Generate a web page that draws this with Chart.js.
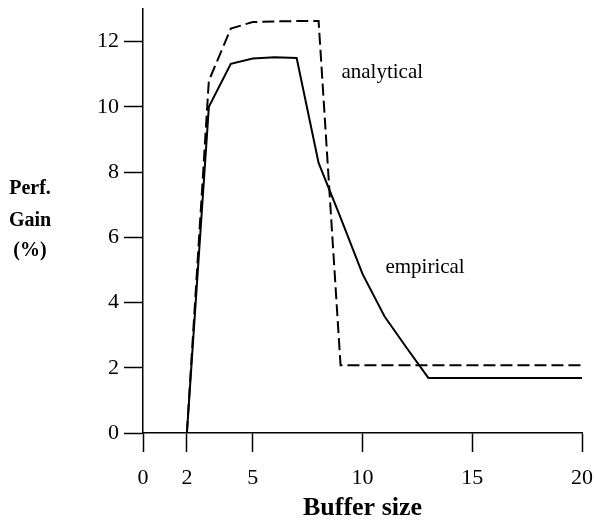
<!DOCTYPE html>
<html>
<head>
<meta charset="utf-8">
<script src="https://cdn.jsdelivr.net/npm/chart.js@4.4.0/dist/chart.umd.min.js"></script>
<style>
  body { margin: 0; background: #fff; }
  canvas { display: block; }
</style>
</head>
<body>
<canvas id="gainChart" width="594" height="524"></canvas>
<script>
// buffer sizes and measured gains (%)
var bufferSizes = [2, 3, 4, 5, 6, 7, 8, 9, 10, 11, 12, 13, 14, 15, 16, 17, 18, 19, 20];
var analytical = [0, 10.8, 12.4, 12.6, 12.62, 12.63, 12.63, 2.08, 2.08, 2.08, 2.08, 2.08, 2.08, 2.08, 2.08, 2.08, 2.08, 2.08, 2.08];
var empirical = [0, 10.0, 11.32, 11.48, 11.52, 11.5, 8.28, 6.6, 4.88, 3.58, 2.62, 1.69, 1.69, 1.69, 1.69, 1.69, 1.69, 1.69, 1.69];
var xTickValues = [0, 2, 5, 10, 15, 20];
var yTickValues = [0, 2, 4, 6, 8, 10, 12];

var serif = "'Liberation Serif', 'Times New Roman', serif";

function toPoints(ys) {
    return bufferSizes.map(function (x, i) { return { x: x, y: ys[i] }; });
}

// series names and the y axis title drawn as text on the canvas
var annotations = {
    id: 'annotations',
    afterDraw: function (chart) {
        var c = chart.ctx;
        var xs = chart.scales.x, ys = chart.scales.y;
        c.save();
        c.fillStyle = '#000';
        c.textAlign = 'center';
        c.textBaseline = 'middle';
        c.font = '21px ' + serif;
        c.fillText('analytical', xs.getPixelForValue(10.9), ys.getPixelForValue(11.05));
        c.fillText('empirical', xs.getPixelForValue(12.85), ys.getPixelForValue(5.07));
        c.font = 'bold 20px ' + serif;
        c.fillText('Perf.', 30, 189);
        c.fillText('Gain', 30, 221);
        c.fillText('(%)', 30, 251);
        c.restore();
    }
};

var ctx = document.getElementById('gainChart').getContext('2d');
var chart = new Chart(ctx, {
    type: 'line',
    data: {
        datasets: [
            {
                label: 'analytical',
                data: toPoints(analytical),
                borderColor: '#000',
                borderWidth: 2,
                borderDash: [12, 5],
                pointRadius: 0,
                tension: 0,
                fill: false
            },
            {
                label: 'empirical',
                data: toPoints(empirical),
                borderColor: '#000',
                borderWidth: 2,
                pointRadius: 0,
                tension: 0,
                fill: false
            }
        ]
    },
    options: {
        responsive: false,
        animation: false,
        layout: { padding: { top: 9, right: 12, left: 0, bottom: 0 } },
        plugins: {
            legend: { display: false },
            tooltip: { enabled: false }
        },
        scales: {
            x: {
                type: 'linear',
                min: 0,
                max: 20,
                afterBuildTicks: function (scale) {
                    scale.ticks = xTickValues.map(function (v) { return { value: v }; });
                },
                afterFit: function (scale) {
                    scale.height = 91;
                    scale.paddingLeft = 0;
                    scale.paddingRight = 0;
                },
                grid: {
                    drawOnChartArea: false,
                    drawTicks: true,
                    tickLength: 19,
                    tickWidth: 1.5,
                    tickColor: '#000'
                },
                border: { display: true, color: '#000', width: 1.5 },
                ticks: {
                    color: '#000',
                    padding: 13,
                    maxRotation: 0,
                    font: { family: serif, size: 22 }
                },
                title: {
                    display: true,
                    text: 'Buffer size',
                    color: '#000',
                    padding: { top: 0, bottom: 0 },
                    font: { family: serif, size: 26, weight: 'bold' }
                }
            },
            y: {
                type: 'linear',
                min: 0,
                max: 13,
                afterBuildTicks: function (scale) {
                    scale.ticks = yTickValues.map(function (v) { return { value: v }; });
                },
                afterFit: function (scale) {
                    scale.width = 143;
                    scale.paddingTop = 0;
                    scale.paddingBottom = 0;
                },
                grid: {
                    drawOnChartArea: false,
                    drawTicks: true,
                    tickLength: 19,
                    tickWidth: 1.5,
                    tickColor: '#000'
                },
                border: { display: true, color: '#000', width: 1.5 },
                ticks: {
                    color: '#000',
                    padding: 5,
                    font: { family: serif, size: 22 }
                }
            }
        }
    },
    plugins: [annotations]
});
</script>
</body>
</html>
